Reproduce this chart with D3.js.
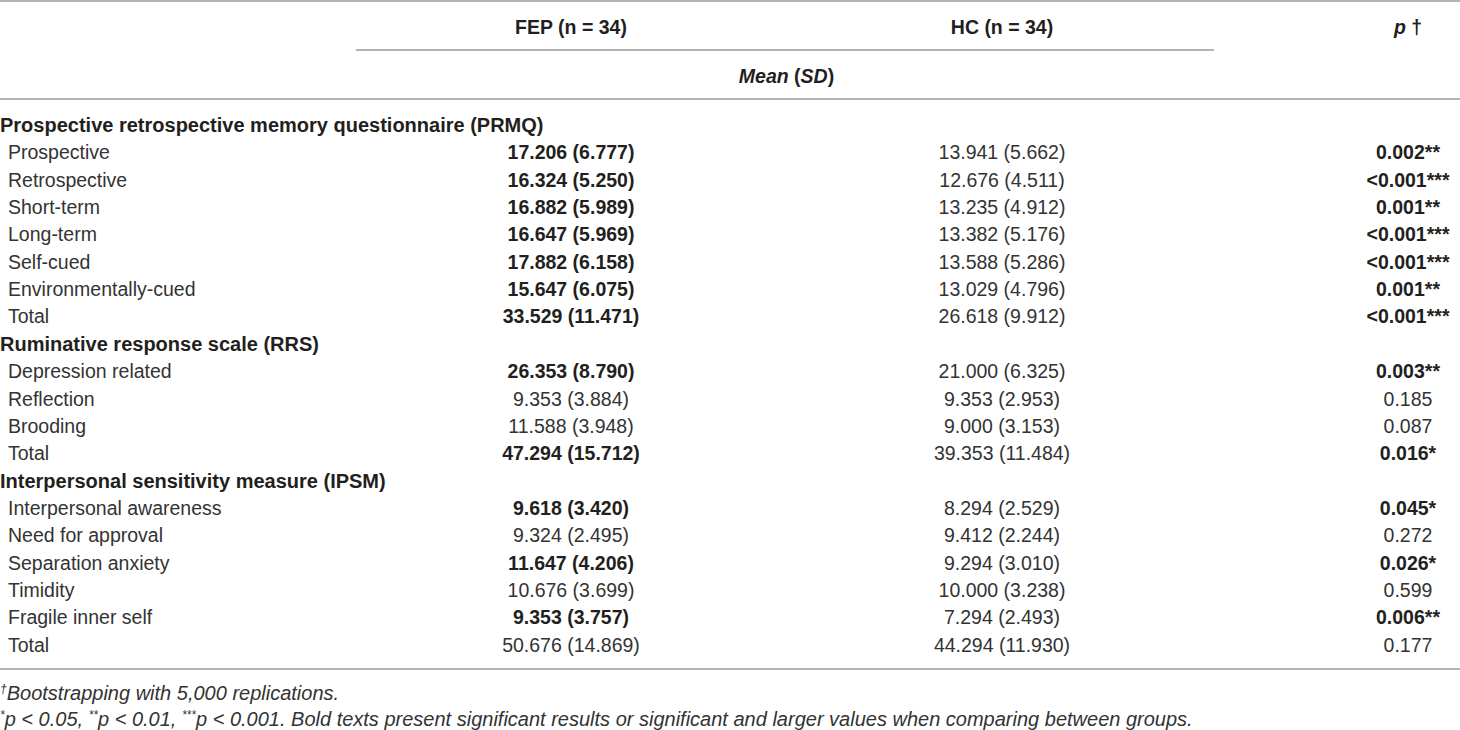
<!DOCTYPE html>
<html>
<head>
<meta charset="utf-8">
<script src="https://cdn.jsdelivr.net/npm/d3@7"></script>
<style>
  body { margin: 0; background: #fff; }
  svg text { font-family: "Liberation Sans", Arial, sans-serif; fill: #231f20; }
  .rule { stroke: #b3b3b3; stroke-width: 2; }
</style>
</head>
<body>
<svg id="table" width="1460" height="730"></svg>
<script>

// rows of the table, in order
var rowLabels = [
	'Prospective retrospective memory questionnaire (PRMQ)',
	'Prospective', 'Retrospective', 'Short-term', 'Long-term', 'Self-cued', 'Environmentally-cued', 'Total',
	'Ruminative response scale (RRS)',
	'Depression related', 'Reflection', 'Brooding', 'Total',
	'Interpersonal sensitivity measure (IPSM)',
	'Interpersonal awareness', 'Need for approval', 'Separation anxiety', 'Timidity', 'Fragile inner self', 'Total'
];
var isGroup = [ true, false, false, false, false, false, false, false, true, false, false, false, false, true, false, false, false, false, false, false ];

var fepMean = [ null, 17.206, 16.324, 16.882, 16.647, 17.882, 15.647, 33.529, null, 26.353, 9.353, 11.588, 47.294, null, 9.618, 9.324, 11.647, 10.676, 9.353, 50.676 ];
var fepSD   = [ null, 6.777, 5.250, 5.989, 5.969, 6.158, 6.075, 11.471, null, 8.790, 3.884, 3.948, 15.712, null, 3.420, 2.495, 4.206, 3.699, 3.757, 14.869 ];
var fepBold = [ false, true, true, true, true, true, true, true, false, true, false, false, true, false, true, false, true, false, true, false ];

var hcMean = [ null, 13.941, 12.676, 13.235, 13.382, 13.588, 13.029, 26.618, null, 21.000, 9.353, 9.000, 39.353, null, 8.294, 9.412, 9.294, 10.000, 7.294, 44.294 ];
var hcSD   = [ null, 5.662, 4.511, 4.912, 5.176, 5.286, 4.796, 9.912, null, 6.325, 2.953, 3.153, 11.484, null, 2.529, 2.244, 3.010, 3.238, 2.493, 11.930 ];

var pValues = [ null, '0.002', '<0.001', '0.001', '<0.001', '<0.001', '0.001', '<0.001', null, '0.003', '0.185', '0.087', '0.016', null, '0.045', '0.272', '0.026', '0.599', '0.006', '0.177' ];
var pStars  = [ '', '**', '***', '**', '***', '***', '**', '***', '', '**', '', '', '*', '', '*', '', '*', '', '**', '' ];

var headerLabels = [ 'FEP (n = 34)', 'HC (n = 34)' ];

var svg = d3.select( '#table' );
var width = 1460;
var fontSize = '19.5px';
var lightFill = '#333';

var fmt = d3.format( '.3f' );

var y = d3.scaleLinear().domain( [ 0, rowLabels.length - 1 ] ).range( [ 125, 645 ] );
var col = d3.scaleOrdinal().domain( [ 'fep', 'hc', 'p' ] ).range( [ 571, 1002, 1408 ] );

// rules
svg.append( 'line' ).attr( 'class', 'rule' ).attr( 'x1', 0 ).attr( 'x2', width ).attr( 'y1', 1 ).attr( 'y2', 1 );
svg.append( 'line' ).attr( 'class', 'rule' ).attr( 'x1', 356 ).attr( 'x2', 1214 ).attr( 'y1', 50 ).attr( 'y2', 50 );
svg.append( 'line' ).attr( 'class', 'rule' ).attr( 'x1', 0 ).attr( 'x2', width ).attr( 'y1', 99 ).attr( 'y2', 99 );
svg.append( 'line' ).attr( 'class', 'rule' ).attr( 'x1', 0 ).attr( 'x2', width ).attr( 'y1', 669 ).attr( 'y2', 669 );

// header
svg.selectAll( 'text.head' )
	.data( headerLabels )
	.enter()
	.append( 'text' )
	.classed( 'head', true )
	.attr( 'x', function ( d, i ) { return col( i === 0 ? 'fep' : 'hc' ); } )
	.attr( 'y', 27 )
	.attr( 'dy', '0.35em' )
	.attr( 'text-anchor', 'middle' )
	.style( 'font-size', fontSize )
	.style( 'font-weight', 'bold' )
	.text( function ( d ) { return d; } );

var pHead = svg.append( 'text' )
	.attr( 'x', col( 'p' ) ).attr( 'y', 27 ).attr( 'dy', '0.35em' )
	.attr( 'text-anchor', 'middle' )
	.style( 'font-size', fontSize ).style( 'font-weight', 'bold' );
pHead.append( 'tspan' ).style( 'font-style', 'italic' ).text( 'p' );
pHead.append( 'tspan' ).text( ' \u2020' );

var meanHead = svg.append( 'text' )
	.attr( 'x', ( col( 'fep' ) + col( 'hc' ) ) / 2 ).attr( 'y', 76 ).attr( 'dy', '0.35em' )
	.attr( 'text-anchor', 'middle' )
	.style( 'font-size', fontSize ).style( 'font-weight', 'bold' );
meanHead.append( 'tspan' ).style( 'font-style', 'italic' ).text( 'Mean' );
meanHead.append( 'tspan' ).text( ' (' );
meanHead.append( 'tspan' ).style( 'font-style', 'italic' ).text( 'SD' );
meanHead.append( 'tspan' ).text( ')' );

// body rows
var rows = svg.selectAll( 'g.row' )
	.data( rowLabels )
	.enter()
	.append( 'g' )
	.classed( 'row', true )
	.attr( 'transform', function ( d, i ) { return 'translate(0,' + y( i ) + ')'; } );

rows.append( 'text' )
	.attr( 'x', function ( d, i ) { return isGroup[i] ? 0 : 8; } )
	.attr( 'dy', '0.35em' )
	.style( 'font-size', function ( d, i ) { return isGroup[i] ? '20px' : fontSize; } )
	.style( 'font-weight', function ( d, i ) { return isGroup[i] ? 'bold' : 'normal'; } )
	.style( 'fill', function ( d, i ) { return isGroup[i] ? null : lightFill; } )
	.text( function ( d ) { return d; } );

rows.each( function ( d, i ) {
	if ( isGroup[i] ) return;
	var g = d3.select( this );
	g.append( 'text' )
		.attr( 'x', col( 'fep' ) )
		.attr( 'dy', '0.35em' )
		.attr( 'text-anchor', 'middle' )
		.style( 'font-size', fontSize )
		.style( 'font-weight', fepBold[i] ? 'bold' : 'normal' )
		.style( 'fill', fepBold[i] ? null : lightFill )
		.text( fmt( fepMean[i] ) + ' (' + fmt( fepSD[i] ) + ')' );
	g.append( 'text' )
		.attr( 'x', col( 'hc' ) )
		.attr( 'dy', '0.35em' )
		.attr( 'text-anchor', 'middle' )
		.style( 'font-size', fontSize )
		.style( 'fill', lightFill )
		.text( fmt( hcMean[i] ) + ' (' + fmt( hcSD[i] ) + ')' );
	g.append( 'text' )
		.attr( 'x', col( 'p' ) )
		.attr( 'dy', '0.35em' )
		.attr( 'text-anchor', 'middle' )
		.style( 'font-size', fontSize )
		.style( 'font-weight', pStars[i] ? 'bold' : 'normal' )
		.style( 'fill', pStars[i] ? null : lightFill )
		.text( pValues[i] + pStars[i] );
} );

// footnotes
var f1 = svg.append( 'text' ).attr( 'x', 0 ).attr( 'y', 693 ).attr( 'dy', '0.35em' )
	.style( 'font-size', '20px' ).style( 'font-style', 'italic' ).style( 'fill', lightFill );
f1.append( 'tspan' ).attr( 'baseline-shift', 'super' ).style( 'font-size', '12px' ).text( '\u2020' );
f1.append( 'tspan' ).text( 'Bootstrapping with 5,000 replications.' );

var f2 = svg.append( 'text' ).attr( 'x', 0 ).attr( 'y', 719 ).attr( 'dy', '0.35em' )
	.style( 'font-size', '20px' ).style( 'font-style', 'italic' ).style( 'fill', lightFill );
[ [ '*', 'p < 0.05, ' ], [ '**', 'p < 0.01, ' ], [ '***', 'p < 0.001. Bold texts present significant results or significant and larger values when comparing between groups.' ] ]
	.forEach( function ( part ) {
		f2.append( 'tspan' ).attr( 'baseline-shift', 'super' ).style( 'font-size', '12px' ).text( part[0] );
		f2.append( 'tspan' ).text( part[1] );
	} );

</script>
</body>
</html>
